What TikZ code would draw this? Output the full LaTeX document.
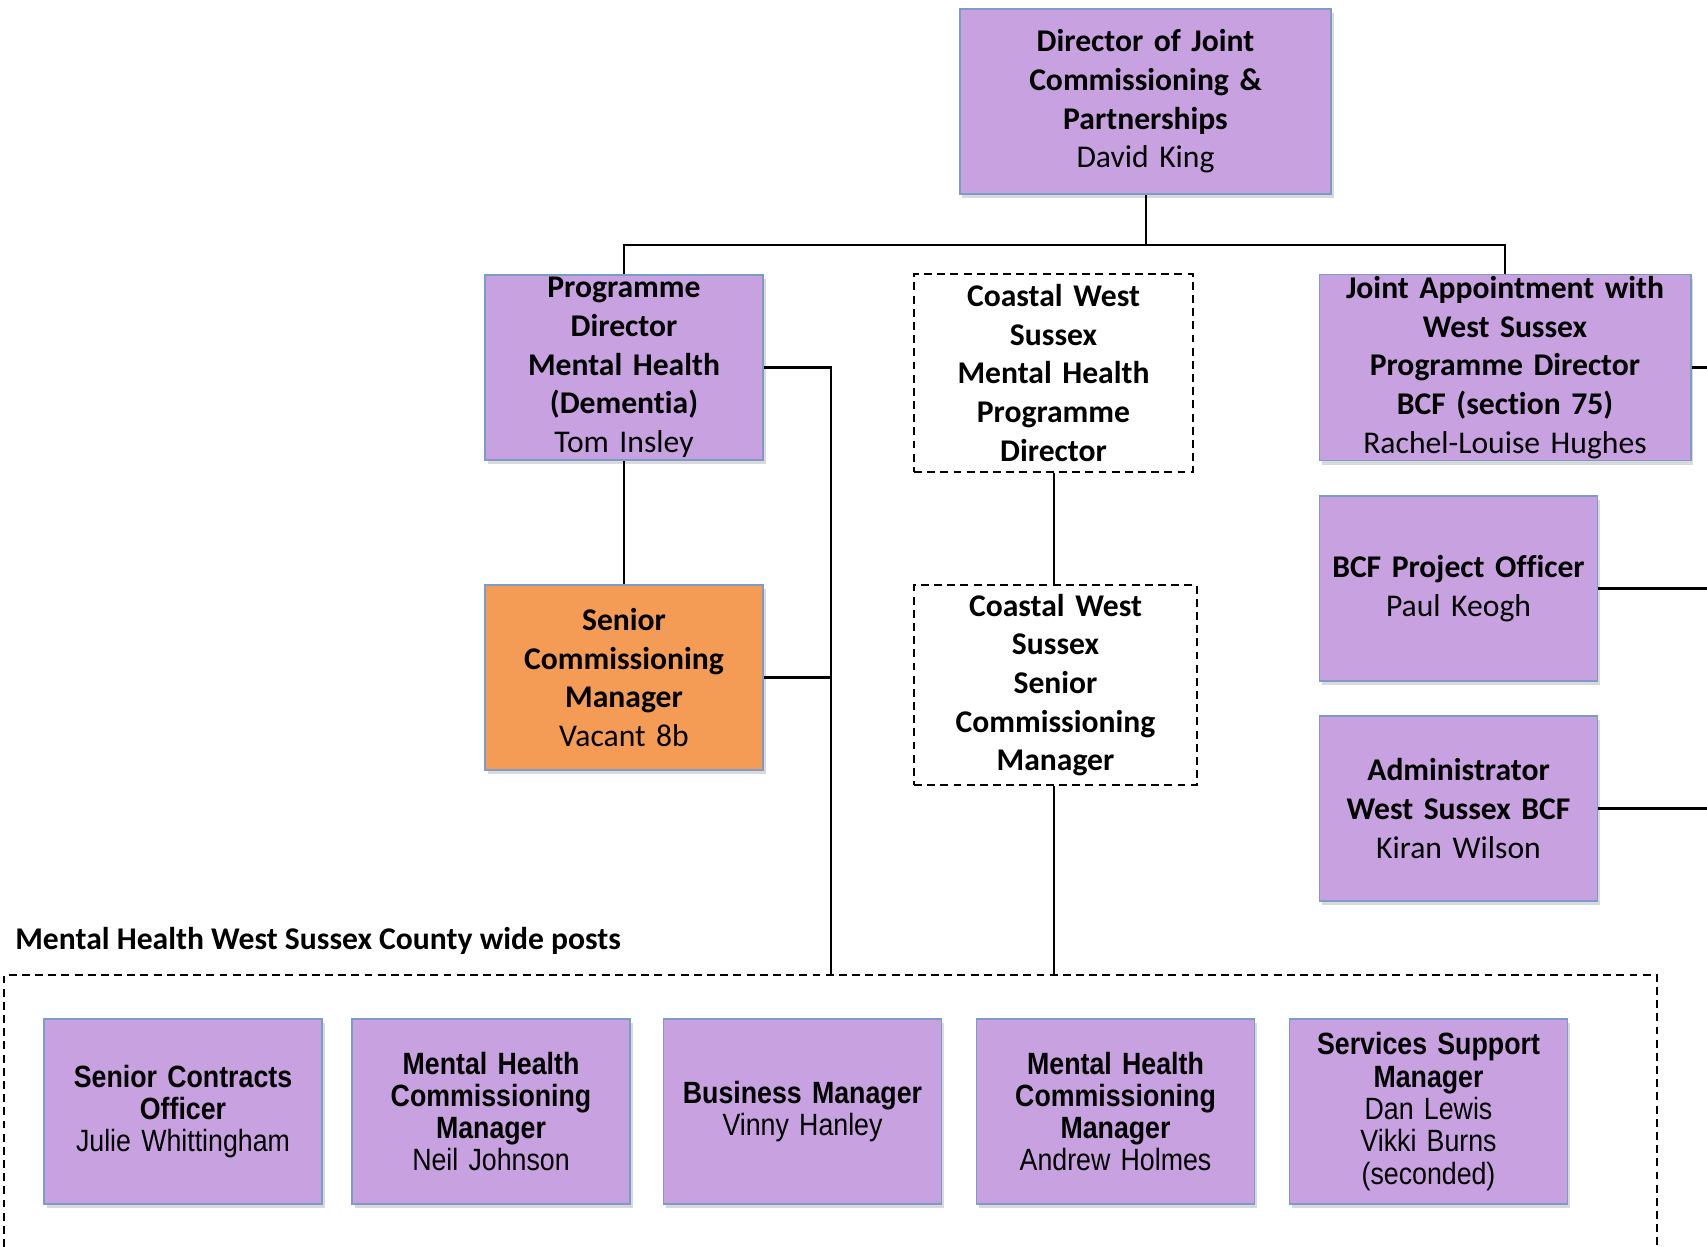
\documentclass[tikz,border=0pt]{standalone}
\usepackage{fontspec}
\setmainfont{Carlito}[Ligatures=NoCommon]
\newfontfamily\narrowfont[FakeStretch=0.87]{Liberation Sans}
\usetikzlibrary{shadows}

\definecolor{lilac}{RGB}{200,161,224}
\definecolor{vacant}{RGB}{244,156,86}
\definecolor{rim}{RGB}{125,155,200}

\tikzset{
  post/.style={draw=rim, fill=lilac, line width=0.9pt, align=center,
    inner sep=1pt, text width=5.45cm, minimum width=5.56cm, minimum height=3.7cm,
    font=\fontsize{18}{22}\selectfont,
    drop shadow={shadow xshift=1.5pt, shadow yshift=-2.5pt, opacity=0.3}},
  widepost/.style={post, text width=7.3cm, minimum width=7.43cm},
  openpost/.style={draw, dash pattern=on 4.5pt off 3pt, line width=0.8pt,
    align=center, inner sep=1pt, text width=5.45cm, minimum width=5.58cm,
    minimum height=3.96cm, font=\bfseries\fontsize{18}{22}\selectfont},
  lowpost/.style={post, font=\narrowfont\fontsize{17.5}{18.4}\selectfont},
  link/.style={line width=1.15pt}
}

\begin{document}
\begin{tikzpicture}[x=0.02cm, y=-0.02cm]
    \useasboundingbox (0,0) rectangle (1707,1247);

    % Director
    \node[widepost] (dir) at (1145.5,101.5) {\bfseries Director of Joint\\Commissioning \&\\Partnerships\\\mdseries David King};

    % Second row
    \node[post] (pd) at (624,367.5) {\bfseries Programme\\Director\\Mental Health\\(Dementia)\\\mdseries Tom Insley};
    \node[openpost] (cwpd) at (1053.5,373) {Coastal West\\Sussex\\Mental Health\\Programme\\Director};
    \node[widepost] (ja) at (1505,367.5) {\bfseries Joint Appointment with\\West Sussex\\Programme Director\\BCF (section 75)\\\mdseries Rachel-Louise Hughes};

    % Third row
    \node[post, fill=vacant] (scm) at (624,677.5) {\bfseries Senior\\Commissioning\\Manager\\\mdseries Vacant 8b};
    \node[openpost, minimum width=5.66cm, minimum height=4cm] (cwscm) at (1055.5,685) {Coastal West\\Sussex\\Senior\\Commissioning\\Manager};
    \node[post] (bcf) at (1458.5,588.5) {\bfseries BCF Project Officer\\\mdseries Paul Keogh};
    \node[post] (adm) at (1458.5,808.5) {\bfseries Administrator\\West Sussex BCF\\\mdseries Kiran Wilson};

    % County wide posts
    \node[anchor=west, inner sep=0pt, font=\bfseries\fontsize{18}{22}\selectfont] (zone) at (15,941) {Mental Health West Sussex County wide posts};
    \draw[dash pattern=on 4.5pt off 3pt, line width=0.8pt] (4,1247) |- (1657,975) -- (1657,1247);

    \node[lowpost] (sco) at (183,1111.5) {\bfseries Senior Contracts\\Officer\\\mdseries Julie Whittingham};
    \node[lowpost] (mhc1) at (491,1111.5) {\bfseries Mental Health\\Commissioning\\Manager\\\mdseries Neil Johnson};
    \node[lowpost] (bm) at (802.5,1111.5) {\bfseries Business Manager\\\mdseries Vinny Hanley};
    \node[lowpost] (mhc2) at (1115.5,1111.5) {\bfseries Mental Health\\Commissioning\\Manager\\\mdseries Andrew Holmes};
    \node[lowpost] (ssm) at (1428.5,1111.5) {\bfseries Services Support\\Manager\\\mdseries Dan Lewis\\Vikki Burns\\(seconded)};

    % Helper points
    \coordinate (fork) at (0,245);
    \coordinate (bus) at (831,975);
    \coordinate (edge) at (1707,0);

    % Lines
    \draw[link] (dir.south) -- (dir.south |- fork) -| (pd.north);
    \draw[link] (dir.south |- fork) -| (ja.north);
    \draw[link] (pd.south) -- (scm.north);
    \draw[link] (pd.east) -| (bus);
    \draw[link] (scm.east) -- (scm.east -| bus);
    \draw[link] (cwpd.south) -- (cwpd.south |- cwscm.north);
    \draw[link] (cwpd.south |- cwscm.south) -- (cwpd.south |- bus);
    \draw[link] (ja.east) -- (ja.east -| edge);
    \draw[link] (bcf.east) -- (bcf.east -| edge);
    \draw[link] (adm.east) -- (adm.east -| edge);
\end{tikzpicture}
\end{document}
